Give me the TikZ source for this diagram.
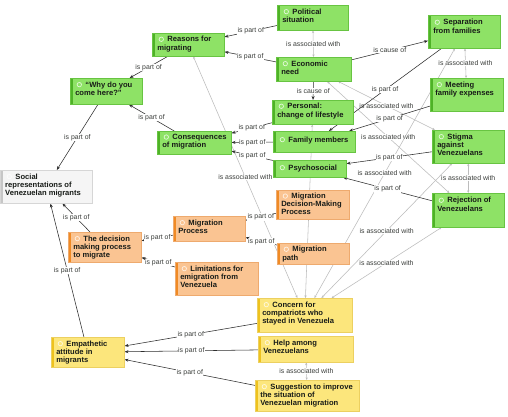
\documentclass[tikz,border=0pt]{standalone}
\usepackage{fontspec}
\setmainfont{Liberation Sans}
\usetikzlibrary{arrows.meta, backgrounds}
\definecolor{grfill}{RGB}{142,226,102}
\definecolor{grbar}{RGB}{78,178,38}
\definecolor{grline}{RGB}{104,196,66}
\definecolor{orfill}{RGB}{250,196,146}
\definecolor{orbar}{RGB}{240,138,36}
\definecolor{orline}{RGB}{238,170,110}
\definecolor{yefill}{RGB}{252,230,124}
\definecolor{yebar}{RGB}{238,194,30}
\definecolor{yeline}{RGB}{236,208,96}
\definecolor{gyfill}{RGB}{245,245,245}
\definecolor{gybar}{RGB}{198,198,198}
\definecolor{gyline}{RGB}{214,214,214}
\definecolor{txt}{RGB}{24,28,24}
\definecolor{edge}{RGB}{45,45,45}
\definecolor{assocgray}{RGB}{188,188,188}
\newcommand{\ico}{\tikz[baseline=-2.7pt]\draw[white,opacity=0.75,line width=0.7pt] (0,0) circle (2.2pt);}
\newcommand{\cbox}[4][3.6pt]{\makebox[#2pt][l]{\parbox[c][#3pt][t]{#2pt}{\hsize=160pt\raggedright\leftskip=5pt\relax
  \vspace*{#1}\hspace*{1.5pt}\ico\hspace{3.6pt}#4}}}

\begin{document}
\begin{tikzpicture}[x=1pt,y=-1pt,
  code/.style={anchor=north west,inner sep=0pt,draw=#1line,fill=#1fill,line width=0.5pt,text=txt,
    font=\fontsize{7.6}{8.1}\selectfont\bfseries,
    path picture={\fill[#1bar] (path picture bounding box.north west) rectangle ([xshift=3pt]path picture bounding box.south west);}},
  partof/.style={draw=edge,line width=0.55pt,-{Stealth[length=4pt,width=3pt]}},
  assoc/.style={draw=assocgray,line width=0.55pt,{Stealth[length=2.6pt,width=2.2pt]}-{Stealth[length=2.6pt,width=2.2pt]}},
  lbl/.style={font=\fontsize{6.9}{7}\selectfont,text=txt!85,fill=white,inner sep=0.5pt}]
  \useasboundingbox (0,0) rectangle (508,417);
  % green codes
  \node[code=gr] (pol) at (277,5) {\cbox{71}{25}{Political\\situation}};
  \node[code=gr] (rea) at (152,33) {\cbox[3.2pt]{72}{23}{Reasons for\\migrating}};
  \node[code=gr] (sep) at (428,15) {\cbox[4.2pt]{72}{33}{Separation\\from families}};
  \node[code=gr] (eco) at (276,57) {\cbox{75}{24}{Economic\\need}};
  \node[code=gr] (why) at (70,78) {\cbox{72}{26}{“Why do you\\come here?”}};
  \node[code=gr] (mee) at (430,78) {\cbox{73}{33}{Meeting\\family expenses}};
  \node[code=gr] (per) at (272,100) {\cbox[3.2pt]{81}{24}{Personal:\\change of lifestyle}};
  \node[code=gr] (con) at (157,131) {\cbox[3.2pt]{74}{23}{Consequences\\of migration}};
  \node[code=gr] (fam) at (273,131) {\cbox[5.6pt]{82}{21}{Family members}};
  \node[code=gr] (psy) at (273,160) {\cbox[4.6pt]{73}{17}{Psychosocial}};
  \node[code=gr] (sti) at (432,130) {\cbox{72}{33}{Stigma\\against\\Venezuelans}};
  \node[code=gr] (rej) at (432,193) {\cbox[4.2pt]{72}{34}{Rejection of\\Venezuelans}};
  % grey code
  \node[code=gy] (soc) at (0,170) {\cbox{92}{33}{Social\\representations of\\Venezuelan migrants}};
  % orange codes
  \node[code=or] (mdm) at (276,190) {\cbox[3pt]{73}{29}{Migration\\Decision-Making\\Process}};
  \node[code=or] (mpr) at (173,216) {\cbox{72}{25}{Migration\\Process}};
  \node[code=or] (dec) at (68,232) {\cbox{73}{30}{The decision\\making process\\to migrate}};
  \node[code=or] (mpa) at (277,243) {\cbox[3.2pt]{72}{21}{Migration\\path}};
  \node[code=or] (lim) at (175,262) {\cbox{83}{33}{Limitations for\\emigration from\\Venezuela}};
  % yellow codes
  \node[code=ye] (cnc) at (257,298) {\cbox{95}{34}{Concern for\\compatriots who\\stayed in Venezuela}};
  \node[code=ye] (emp) at (51,337) {\cbox{73}{30}{Empathetic\\attitude in\\migrants}};
  \node[code=ye] (hlp) at (258,336) {\cbox{95}{26}{Help among\\Venezuelans}};
  \node[code=ye] (sug) at (255,380) {\cbox{104}{31}{Suggestion to improve\\the situation of\\Venezuelan migration}};
  % links
  \begin{scope}[on background layer]
    \fill[white] (0,0) rectangle (508,417);
    \draw[assoc] (pol) -- node[lbl]{is associated with} (eco);
    \draw[assoc] (sep) -- node[lbl]{is associated with} (mee);
    \draw[assoc] (eco) -- node[lbl]{is associated with} (sti);
    \draw[assoc] (eco) -- node[lbl]{is associated with} (rej);
    \draw[assoc] (sti) -- node[lbl]{is associated with} (rej);
    \draw[assoc] (rea) -- node[lbl]{is associated with} (cnc);
    \draw[assoc] (per) -- (cnc);
    \draw[assoc] (sep) -- node[lbl]{is associated with} (cnc);
    \draw[assoc] (sti) -- node[lbl]{is associated with} (cnc);
    \draw[assoc] (rej) -- node[lbl]{is associated with} (cnc);
    \draw[assoc] (hlp) -- node[lbl]{is associated with} (sug);
    \draw[partof] (pol) -- node[lbl]{is part of} (rea);
    \draw[partof] (eco) -- node[lbl]{is part of} (rea);
    \draw[partof] (eco) -- node[lbl]{is cause of} (sep);
    \draw[partof] (eco) -- node[lbl]{is cause of} (per);
    \draw[partof] (rea) -- node[lbl]{is part of} (why);
    \draw[partof] (con) -- node[lbl]{is part of} (why);
    \draw[partof] (why) -- node[lbl]{is part of} (soc);
    \draw[partof] (sep) -- node[lbl]{is part of} (fam);
    \draw[partof] (mee) -- node[lbl]{is part of} (fam);
    \draw[partof] (per) -- node[lbl]{is part of} (con);
    \draw[partof] (fam) -- node[lbl]{is part of} (con);
    \draw[partof] (psy) -- node[lbl]{is part of} (con);
    \draw[partof] (sti) -- node[lbl]{is part of} (psy);
    \draw[partof] (rej) -- node[lbl]{is part of} (psy);
    \draw[partof] (mdm) -- node[lbl]{is part of} (mpr);
    \draw[partof] (mpa) -- node[lbl]{is part of} (mpr);
    \draw[partof] (mpr) -- node[lbl]{is part of} (dec);
    \draw[partof] (lim) -- node[lbl]{is part of} (dec);
    \draw[partof] (dec) -- node[lbl]{is part of} (soc);
    \draw[partof] (emp) -- node[lbl]{is part of} (soc);
    \draw[partof] (cnc) -- node[lbl]{is part of} (emp);
    \draw[partof] (hlp) -- node[lbl]{is part of} (emp);
    \draw[partof] (sug) -- node[lbl]{is part of} (emp);
  \end{scope}
\end{tikzpicture}
\end{document}
